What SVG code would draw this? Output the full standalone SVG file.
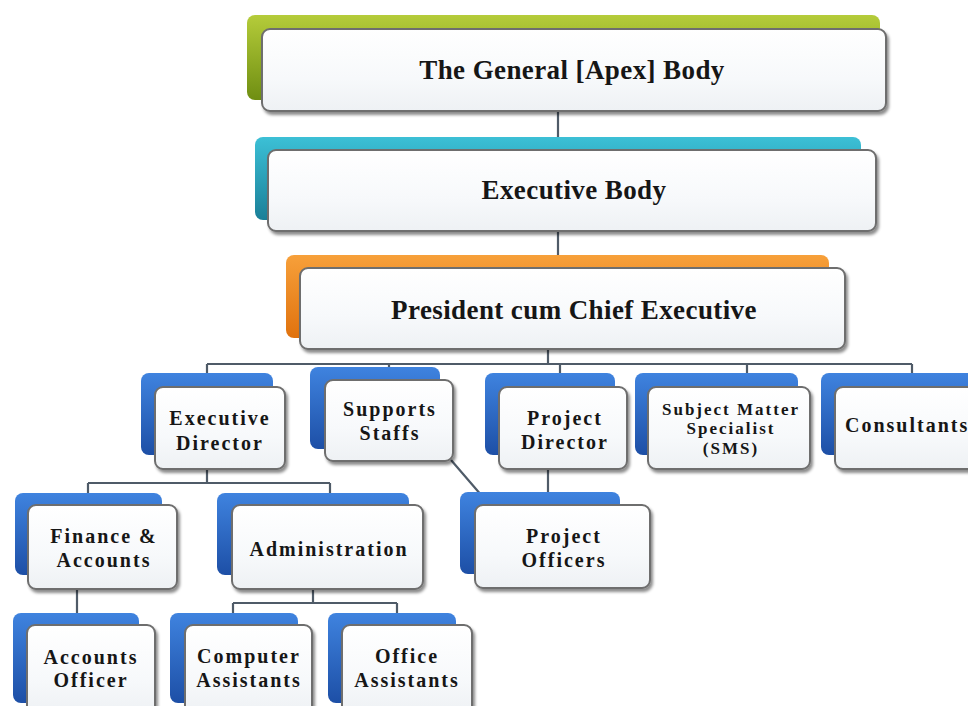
<svg xmlns="http://www.w3.org/2000/svg" width="968" height="706" viewBox="0 0 968 706">
<defs>
<linearGradient id="gGreen" x1="0" y1="0" x2="0" y2="1"><stop offset="0" stop-color="#b5cc3a"/><stop offset="1" stop-color="#6f8e12"/></linearGradient>
<linearGradient id="gTeal" x1="0" y1="0" x2="0" y2="1"><stop offset="0" stop-color="#3cc0d6"/><stop offset="1" stop-color="#1a7f98"/></linearGradient>
<linearGradient id="gOrange" x1="0" y1="0" x2="0" y2="1"><stop offset="0" stop-color="#f7a03a"/><stop offset="1" stop-color="#e0720e"/></linearGradient>
<linearGradient id="gBlue" x1="0" y1="0" x2="0" y2="1"><stop offset="0" stop-color="#3f83df"/><stop offset="1" stop-color="#1d4fa6"/></linearGradient>
<linearGradient id="gFront" x1="0" y1="0" x2="0" y2="1"><stop offset="0" stop-color="#ffffff"/><stop offset="0.6" stop-color="#f7f9fb"/><stop offset="1" stop-color="#eef1f4"/></linearGradient>
<filter id="sh" x="-10%" y="-10%" width="130%" height="140%"><feDropShadow dx="2" dy="3" stdDeviation="1.8" flood-color="#000" flood-opacity="0.45"/></filter>
</defs>
<style>
.front{fill:url(#gFront);stroke:#6e6e6e;stroke-width:2;filter:url(#sh)}
.back{stroke:none}
.blue{fill:url(#gBlue)}
.t{font-family:"Liberation Serif","Times New Roman",serif;font-weight:bold;fill:#161616;text-anchor:middle}
.big{font-size:27px;letter-spacing:0.4px}
.sm{font-size:20px;letter-spacing:2px}
.xs{font-size:17px;letter-spacing:2px}
.con{fill:none;stroke:#4f5b68;stroke-width:2.2}
</style>
<rect width="968" height="706" fill="#ffffff"/>
<g id="connectors">
<path class="con" d="M558 110V140M558 230V258"/>
<path class="con" d="M548 348V364M207 364H912M207 364V376M389 364V370M560 364V376M747 364V376M912 364V376"/>
<path class="con" d="M548 468V496M451 460L482 496"/>
<path class="con" d="M207 468V483M88 483H330M88 483V496M330 483V496"/>
<path class="con" d="M77 588V616M313 588V603M233 603H397M233 603V616M397 603V616"/>
</g>
<g id="n-general">
<rect class="back" x="247" y="15" width="633" height="85" rx="8" fill="url(#gGreen)"/>
<rect class="front" x="262" y="29" width="624" height="82" rx="8"/>
<text class="t big" x="572" y="79">The General [Apex] Body</text>
</g>
<g id="n-executive">
<rect class="back" x="255" y="137" width="606" height="83" rx="8" fill="url(#gTeal)"/>
<rect class="front" x="268" y="150" width="608" height="81" rx="8"/>
<text class="t big" x="574" y="199">Executive Body</text>
</g>
<g id="n-president">
<rect class="back" x="286" y="255" width="543" height="83" rx="8" fill="url(#gOrange)"/>
<rect class="front" x="300" y="268" width="545" height="81" rx="8"/>
<text class="t big" x="574" y="319">President cum Chief Executive</text>
</g>
<g id="n-execdir">
<rect class="back blue" x="141" y="373" width="132" height="82" rx="8"/>
<rect class="front" x="155" y="387" width="130" height="82" rx="8"/>
<text class="t sm" x="220" y="425">Executive</text>
<text class="t sm" x="220" y="450">Director</text>
</g>
<g id="n-support">
<rect class="back blue" x="310" y="367" width="130" height="82" rx="8"/>
<rect class="front" x="325" y="380" width="128" height="81" rx="8"/>
<text class="t sm" x="390" y="416">Supports</text>
<text class="t sm" x="390" y="440">Staffs</text>
</g>
<g id="n-projdir">
<rect class="back blue" x="485" y="373" width="130" height="82" rx="8"/>
<rect class="front" x="499" y="387" width="128" height="82" rx="8"/>
<text class="t sm" x="565" y="425">Project</text>
<text class="t sm" x="565" y="449">Director</text>
</g>
<g id="n-sms">
<rect class="back blue" x="635" y="373" width="163" height="82" rx="8"/>
<rect class="front" x="648" y="387" width="162" height="82" rx="8"/>
<text class="t xs" x="731" y="415">Subject Matter</text>
<text class="t xs" x="731" y="434">Specialist</text>
<text class="t xs" x="731" y="454">(SMS)</text>
</g>
<g id="n-consult">
<rect class="back blue" x="821" y="373" width="160" height="82" rx="8"/>
<rect class="front" x="835" y="387" width="160" height="82" rx="8"/>
<text class="t sm" x="845" y="432" style="text-anchor:start">Consultants</text>
</g>
<g id="n-projoff">
<rect class="back blue" x="460" y="492" width="160" height="82" rx="8"/>
<rect class="front" x="475" y="505" width="175" height="83" rx="8"/>
<text class="t sm" x="564" y="543">Project</text>
<text class="t sm" x="564" y="567">Officers</text>
</g>
<g id="n-finance">
<rect class="back blue" x="15" y="493" width="147" height="82" rx="8"/>
<rect class="front" x="28" y="505" width="149" height="84" rx="8"/>
<text class="t sm" x="104" y="543">Finance &amp;</text>
<text class="t sm" x="104" y="567">Accounts</text>
</g>
<g id="n-admin">
<rect class="back blue" x="217" y="493" width="192" height="82" rx="8"/>
<rect class="front" x="232" y="505" width="191" height="84" rx="8"/>
<text class="t sm" x="329" y="556">Administration</text>
</g>
<g id="n-accoff">
<rect class="back blue" x="13" y="613" width="126" height="90" rx="8"/>
<rect class="front" x="27" y="625" width="128" height="90" rx="8"/>
<text class="t sm" x="91" y="664">Accounts</text>
<text class="t sm" x="91" y="687">Officer</text>
</g>
<g id="n-compass">
<rect class="back blue" x="170" y="613" width="128" height="90" rx="8"/>
<rect class="front" x="185" y="625" width="127" height="90" rx="8"/>
<text class="t sm" x="249" y="663">Computer</text>
<text class="t sm" x="249" y="687">Assistants</text>
</g>
<g id="n-officeass">
<rect class="back blue" x="328" y="613" width="128" height="90" rx="8"/>
<rect class="front" x="342" y="625" width="130" height="90" rx="8"/>
<text class="t sm" x="407" y="663">Office</text>
<text class="t sm" x="407" y="687">Assistants</text>
</g>
</svg>
